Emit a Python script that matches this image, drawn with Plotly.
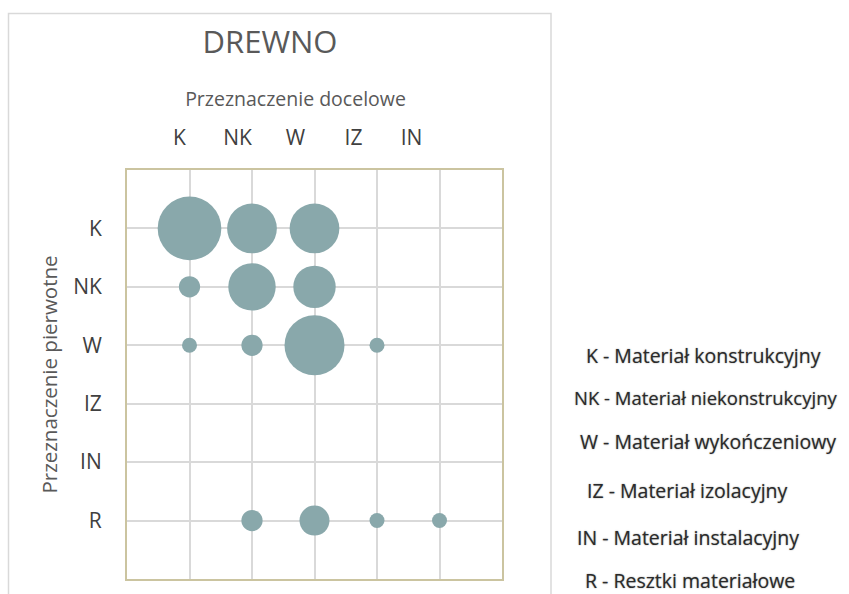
import plotly.graph_objects as go

# Categories of material use
target_cats = ["K", "NK", "W", "IZ", "IN"]          # Przeznaczenie docelowe
source_cats = ["K", "NK", "W", "IZ", "IN", "R"]      # Przeznaczenie pierwotne

# Number of cases: rows = source category, columns = target category
counts_K = [18, 11, 11, 0, 0]
counts_NK = [2, 10, 8, 0, 0]
counts_W = [1, 2, 16, 1, 0]
counts_IZ = [0, 0, 0, 0, 0]
counts_IN = [0, 0, 0, 0, 0]
counts_R = [0, 2, 4, 1, 1]

legend_lines = [
    "K - Materiał konstrukcyjny",
    "NK - Materiał niekonstrukcyjny",
    "W - Materiał wykończeniowy",
    "IZ - Materiał izolacyjny",
    "IN - Materiał instalacyjny",
    "R - Resztki materiałowe",
]

rows = [counts_K, counts_NK, counts_W, counts_IZ, counts_IN, counts_R]
xs, ys, sizes = [], [], []
for ri, row in enumerate(rows):
    for ci, v in enumerate(row):
        if v > 0:
            xs.append(ci)
            ys.append(ri)
            sizes.append(v)

W, H = 849, 594
L, R, T, B = 127, 347, 170, 15
PW, PH = W - L - R, H - T - B


def px_x(px):
    return (px - L) / PW


def px_y(py):
    return (H - B - py) / PH


BUBBLE = "#89a8ab"
GRID = "#d9d9d9"
FRAME = "#cbc4a0"
TXT = "#595959"
FONT = "Open Sans"

fig = go.Figure()
fig.add_trace(go.Scatter(
    x=xs, y=ys, mode="markers",
    marker=dict(size=sizes, sizemode="area", sizeref=2 / 225,
                color=BUBBLE, line=dict(width=0), opacity=1),
    hoverinfo="skip", showlegend=False,
))
# carrier trace for the top category labels
fig.add_trace(go.Scatter(
    x=list(range(len(target_cats))), y=[0] * len(target_cats),
    xaxis="x2", yaxis="y2", mode="markers",
    marker=dict(size=1, opacity=0), hoverinfo="skip", showlegend=False,
))

fig.update_layout(
    width=W, height=H,
    margin=dict(l=L, r=R, t=T, b=B),
    paper_bgcolor="white", plot_bgcolor="rgba(0,0,0,0)",
    font=dict(family=FONT, color=TXT),
    title=dict(text="DREWNO", font=dict(size=31, color=TXT, family=FONT),
               xref="container", yref="container",
               x=270 / W, xanchor="center", y=1 - 42 / H, yanchor="middle"),
    xaxis=dict(range=[-1, len(target_cats)], tickvals=list(range(len(target_cats))),
               showticklabels=False, ticks="", showgrid=True, gridcolor=GRID,
               gridwidth=1.5, zeroline=False, showline=True, linecolor=FRAME,
               linewidth=2, mirror=True, fixedrange=True),
    yaxis=dict(range=[len(source_cats), -1], tickvals=list(range(len(source_cats))),
               ticktext=source_cats, tickfont=dict(size=21, color="#404040"),
               ticks="outside", ticklen=19, tickcolor="rgba(0,0,0,0)",
               showgrid=True, gridcolor=GRID, gridwidth=1.5, zeroline=False,
               showline=True, linecolor=FRAME, linewidth=2, mirror=True,
               title=dict(text="Przeznaczenie pierwotne",
                          font=dict(size=20.5, color=TXT), standoff=10),
               fixedrange=True),
    xaxis2=dict(domain=[px_x(150.5), px_x(440.5)], anchor="y2", side="top",
                range=[-0.5, len(target_cats) - 0.5],
                tickvals=list(range(len(target_cats))), ticktext=target_cats,
                tickfont=dict(size=21, color="#404040"),
                ticks="outside", ticklen=16, tickcolor="rgba(0,0,0,0)",
                showgrid=False, zeroline=False, showline=False,
                title=dict(text="Przeznaczenie docelowe",
                           font=dict(size=19.5, color=TXT), standoff=10),
                fixedrange=True),
    yaxis2=dict(domain=[0, 1], visible=False, range=[-1, 1], fixedrange=True),
)

# chart-area frame
fig.add_shape(type="rect", xref="paper", yref="paper",
              x0=px_x(8.5), x1=px_x(551), y0=px_y(610), y1=px_y(13.5),
              line=dict(color=GRID, width=1.5), fillcolor="rgba(0,0,0,0)",
              layer="below")

# explanation of abbreviations
legend_x = [584, 572, 578, 585, 575, 583]
legend_y = [355, 397, 441, 490, 537, 580]
legend_size = [19.5, 18.5, 19.5, 19.5, 19.5, 19.5]
for text, lx, ly, fs in zip(legend_lines, legend_x, legend_y, legend_size):
    fig.add_annotation(text=text, xref="paper", yref="paper",
                       x=px_x(lx), y=px_y(ly), xanchor="left", yanchor="middle",
                       showarrow=False,
                       font=dict(size=fs, color="#2a2a2a", family=FONT,
                                 weight=500, shadow="0 0 1.5px #8a8a8a"))

fig.write_html("out.html")
